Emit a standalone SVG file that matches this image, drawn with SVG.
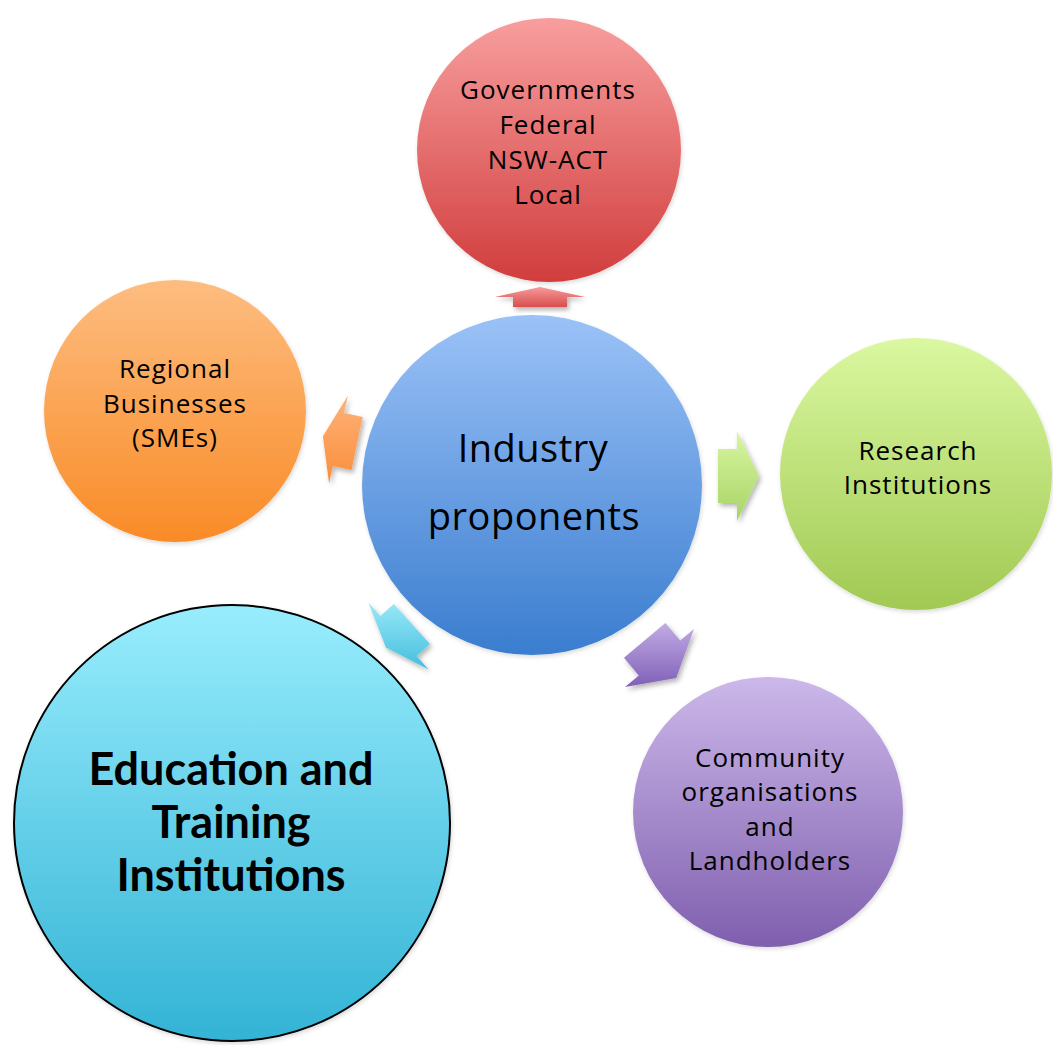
<svg xmlns="http://www.w3.org/2000/svg" width="1053" height="1045" viewBox="0 0 1053 1045">
  <defs>
    <linearGradient id="gRed" x1="0" y1="0" x2="0" y2="1"><stop offset="0" stop-color="#F89E9E"/><stop offset="1" stop-color="#D13D3D"/></linearGradient>
    <linearGradient id="gOrange" x1="0" y1="0" x2="0" y2="1"><stop offset="0" stop-color="#FDBD80"/><stop offset="1" stop-color="#F98B27"/></linearGradient>
    <linearGradient id="gBlue" x1="0" y1="0" x2="0" y2="1"><stop offset="0" stop-color="#9BC2F7"/><stop offset="1" stop-color="#3A7DCF"/></linearGradient>
    <linearGradient id="gGreen" x1="0" y1="0" x2="0" y2="1"><stop offset="0" stop-color="#DAF8A0"/><stop offset="1" stop-color="#A1C953"/></linearGradient>
    <linearGradient id="gPurple" x1="0" y1="0" x2="0" y2="1"><stop offset="0" stop-color="#CCB8EA"/><stop offset="1" stop-color="#7F5FAE"/></linearGradient>
    <linearGradient id="gCyan" x1="0" y1="0" x2="0" y2="1"><stop offset="0" stop-color="#98EDFD"/><stop offset="1" stop-color="#33B3D5"/></linearGradient>
    <linearGradient id="aRed" x1="0" y1="0" x2="0" y2="1"><stop offset="0" stop-color="#F79A9A"/><stop offset="1" stop-color="#D84E4E"/></linearGradient>
    <linearGradient id="aOrange" x1="0" y1="0" x2="0" y2="1"><stop offset="0" stop-color="#FFB27A"/><stop offset="1" stop-color="#F98E3A"/></linearGradient>
    <linearGradient id="aGreen" x1="0" y1="0" x2="0" y2="1"><stop offset="0" stop-color="#D8F6A0"/><stop offset="1" stop-color="#A8D466"/></linearGradient>
    <linearGradient id="aCyan" x1="0" y1="0" x2="0" y2="1"><stop offset="0" stop-color="#98E8F8"/><stop offset="1" stop-color="#45BEDD"/></linearGradient>
    <linearGradient id="aPurple" x1="0" y1="0" x2="0" y2="1"><stop offset="0" stop-color="#C2ACE6"/><stop offset="1" stop-color="#8060B6"/></linearGradient>
    <filter id="shadow" x="-30%" y="-30%" width="160%" height="160%">
      <feDropShadow dx="2" dy="3" stdDeviation="2.5" flood-color="#000" flood-opacity="0.3"/>
    </filter>
    <filter id="cshadow" x="-10%" y="-10%" width="120%" height="120%">
      <feDropShadow dx="1" dy="2" stdDeviation="2" flood-color="#000" flood-opacity="0.15"/>
    </filter>
  </defs>
  <style>
    .lbl { font-family: "Open Sans", Lato, "Liberation Sans", sans-serif; fill: #000; text-anchor: middle; }
    .sm { font-size: 26px; letter-spacing: 1px; }
    .md { font-size: 38px; letter-spacing: 0.5px; }
    .lg { font-family: Lato, "Open Sans", "Liberation Sans", sans-serif; font-size: 45px; font-weight: bold; letter-spacing: 0; }
    .arrow { filter: url(#shadow); }
    .node circle { filter: url(#cshadow); }
  </style>
  <rect width="1053" height="1045" fill="#fff"/>

  <g id="connectors">
    <polygon class="arrow" fill="url(#aRed)" points="513,307 513,297 495,297 540,287 585,297 567,297 567,307"/>
    <polygon class="arrow" fill="url(#aOrange)" points="362.7,417 344.1,413.1 347.9,395.5 322.9,436.2 329.1,483.5 332.9,465.9 351.5,469.9"/>
    <polygon class="arrow" fill="url(#aGreen)" points="718,449 737,449 737,431 759,476 737,521 737,503 718,503"/>
    <polygon class="arrow" fill="url(#aCyan)" points="393.8,603.9 380.4,615.9 368.4,602.6 385.9,647.4 428.6,669.4 416.6,656.1 430,644.1"/>
    <polygon class="arrow" fill="url(#aPurple)" points="665.4,623 680.2,640.6 694,629.1 676.2,677.9 625,686.9 638.8,675.4 624,657.8"/>
  </g>

  <g id="node-governments" class="node">
    <circle cx="549" cy="150" r="132" fill="url(#gRed)"/>
    <text class="lbl sm" x="548" y="99">Governments</text>
    <text class="lbl sm" x="548" y="134">Federal</text>
    <text class="lbl sm" x="548" y="169">NSW-ACT</text>
    <text class="lbl sm" x="548" y="204">Local</text>
  </g>

  <g id="node-regional" class="node">
    <circle cx="175" cy="411" r="131" fill="url(#gOrange)"/>
    <text class="lbl sm" x="175" y="378">Regional</text>
    <text class="lbl sm" x="175" y="413">Businesses</text>
    <text class="lbl sm" x="175" y="447">(SMEs)</text>
  </g>

  <g id="node-industry" class="node">
    <circle cx="532" cy="485" r="170" fill="url(#gBlue)"/>
    <text class="lbl md" x="533" y="462">Industry</text>
    <text class="lbl md" x="534" y="530">proponents</text>
  </g>

  <g id="node-research" class="node">
    <circle cx="916" cy="474" r="136" fill="url(#gGreen)"/>
    <text class="lbl sm" x="918" y="460">Research</text>
    <text class="lbl sm" x="918" y="494">Institutions</text>
  </g>

  <g id="node-community" class="node">
    <circle cx="768" cy="812" r="135" fill="url(#gPurple)"/>
    <text class="lbl sm" x="770" y="767">Community</text>
    <text class="lbl sm" x="770" y="801">organisations</text>
    <text class="lbl sm" x="770" y="836">and</text>
    <text class="lbl sm" x="770" y="870">Landholders</text>
  </g>

  <g id="node-education" class="node">
    <circle cx="232" cy="823" r="218" fill="url(#gCyan)" stroke="#000" stroke-width="2"/>
    <text class="lbl lg" x="231" y="785">Education and</text>
    <text class="lbl lg" x="231" y="838">Training</text>
    <text class="lbl lg" x="231" y="891">Institutions</text>
  </g>
</svg>
